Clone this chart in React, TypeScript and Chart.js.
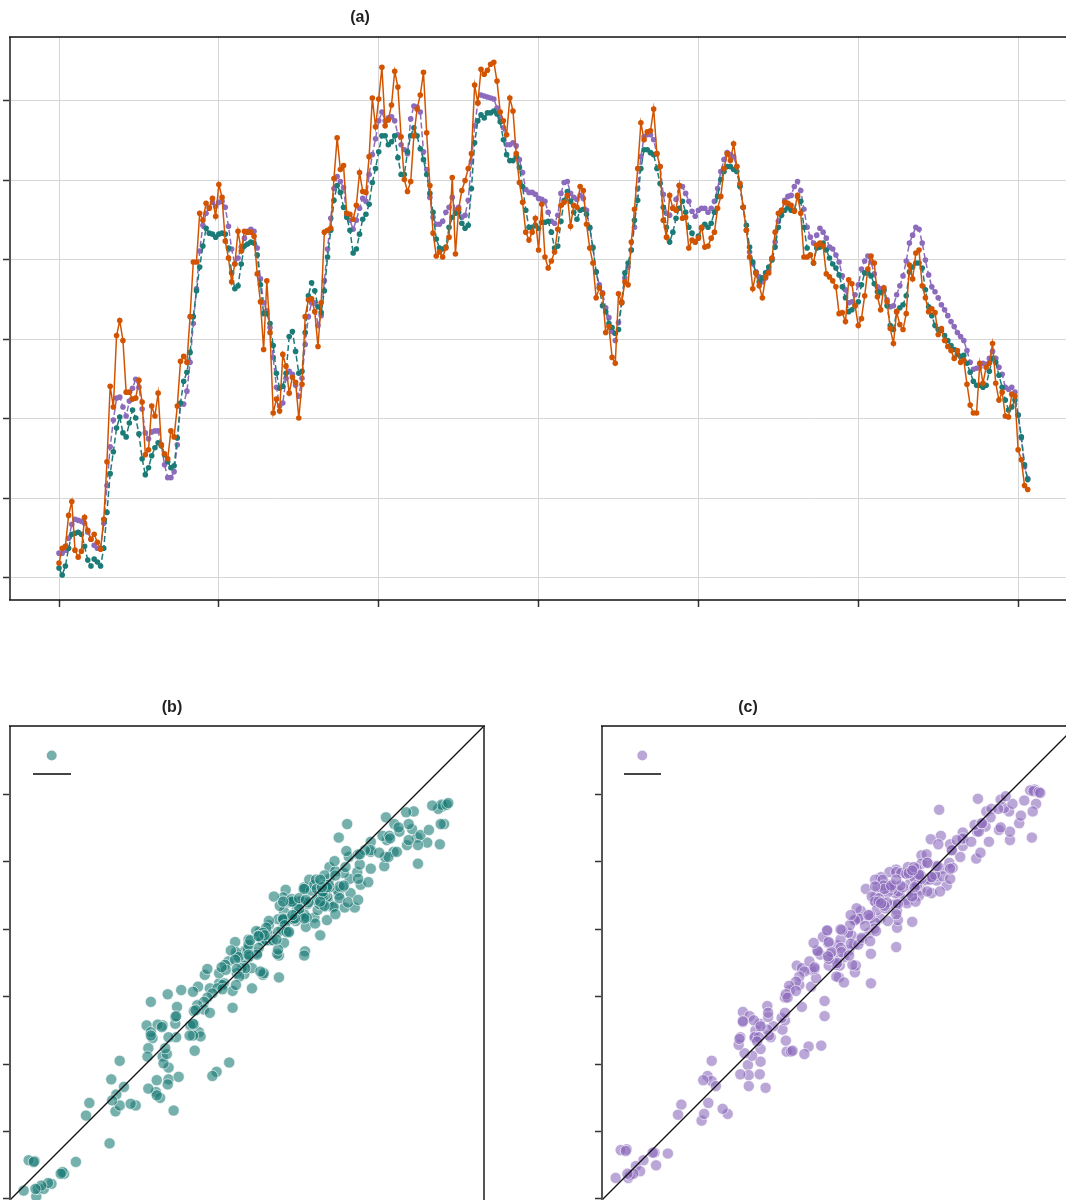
import React, { useEffect, useRef } from "react";
import { Chart, registerables } from "chart.js";

Chart.register(...registerables);

// ---- data ----
const observed = [
  15, 30, 32, 63, 77, 28, 21, 27, 61, 48,
  39, 44, 36, 29, 59, 117, 193, 172, 244, 259,
  239, 187, 187, 180, 181, 199, 177, 124, 129, 173,
  163, 186, 134, 125, 120, 148, 142, 173, 218, 223,
  217, 263, 318, 318, 367, 360, 377, 372, 382, 364,
  396, 383, 339, 322, 298, 316, 349, 329, 349, 348,
  348, 344, 306, 278, 230, 299, 247, 166, 180, 168,
  225, 213, 186, 202, 197, 161, 195, 263, 280, 281,
  268, 233, 277, 348, 350, 352, 402, 443, 411, 415,
  367, 366, 361, 375, 408, 389, 388, 424, 483, 454,
  482, 514, 455, 461, 476, 510, 494, 444, 401, 389,
  399, 445, 472, 486, 509, 448, 395, 347, 324, 328,
  323, 332, 343, 403, 326, 371, 390, 400, 412, 427,
  496, 478, 512, 507, 511, 517, 519, 500, 469, 460,
  446, 483, 470, 427, 398, 378, 348, 340, 348, 362,
  330, 376, 323, 312, 319, 328, 351, 375, 378, 385,
  354, 375, 373, 394, 390, 356, 332, 317, 282, 292,
  286, 247, 253, 222, 216, 286, 277, 298, 295, 338,
  371, 412, 458, 441, 449, 450, 472, 427, 414, 360,
  343, 385, 372, 370, 395, 362, 363, 332, 340, 338,
  342, 353, 333, 334, 342, 348, 372, 384, 412, 427,
  420, 437, 414, 397, 373, 350, 323, 291, 307, 294,
  282, 303, 307, 322, 348, 367, 370, 378, 377, 375,
  369, 385, 367, 323, 323, 325, 317, 335, 337, 334,
  306, 303, 299, 293, 266, 267, 258, 300, 296, 274,
  254, 261, 284, 311, 324, 317, 283, 270, 292, 278,
  251, 236, 268, 255, 250, 266, 315, 301, 327, 330,
  294, 282, 268, 271, 267, 245, 251, 239, 233, 229,
  221, 229, 217, 219, 195, 174, 166, 166, 216, 196,
  212, 216, 236, 196, 179, 187, 163, 162, 185, 183,
  129, 119, 93, 89,
];

const modelTeal = [
  10, 3, 12, 30, 44, 45, 46, 44, 32, 18,
  12, 19, 16, 12, 30, 66, 105, 127, 151, 162,
  146, 142, 156, 169, 161, 145, 120, 104, 111, 123,
  131, 136, 133, 124, 117, 111, 113, 141, 176, 198,
  207, 227, 263, 289, 313, 334, 352, 347, 346, 343,
  346, 347, 346, 332, 307, 291, 294, 316, 334, 336,
  338, 337, 325, 295, 266, 266, 256, 234, 206, 191,
  193, 206, 243, 248, 228, 206, 208, 247, 284, 297,
  289, 273, 267, 289, 323, 350, 380, 395, 388, 373,
  363, 350, 327, 331, 346, 361, 366, 376, 398, 412,
  429, 445, 445, 436, 439, 445, 423, 406, 406, 429,
  445, 453, 445, 432, 421, 406, 387, 368, 341, 332,
  331, 333, 353, 363, 367, 368, 357, 352, 355, 392,
  438, 460, 466, 463, 468, 468, 470, 467, 459, 441,
  426, 420, 420, 424, 413, 394, 370, 353, 353, 355,
  352, 358, 358, 359, 348, 332, 334, 359, 380, 389,
  379, 368, 361, 370, 371, 366, 353, 332, 308, 292,
  274, 268, 256, 252, 246, 250, 277, 307, 317, 330,
  360, 380, 412, 431, 431, 428, 426, 412, 397, 373,
  353, 338, 348, 362, 372, 379, 368, 353, 347, 338,
  344, 352, 356, 353, 357, 368, 384, 401, 409, 414,
  414, 411, 409, 394, 373, 355, 333, 318, 307, 298,
  302, 307, 313, 320, 333, 353, 365, 370, 373, 370,
  370, 384, 379, 353, 332, 325, 317, 332, 333, 337,
  330, 322, 316, 312, 305, 293, 282, 268, 270, 274,
  278, 295, 307, 307, 304, 296, 288, 287, 290, 274,
  254, 250, 268, 272, 275, 284, 308, 313, 317, 317,
  312, 290, 273, 264, 254, 250, 249, 244, 239, 234,
  230, 225, 223, 224, 216, 207, 198, 194, 194, 192,
  194, 208, 221, 217, 204, 192, 179, 169, 172, 179,
  164, 142, 114, 99,
];

const modelPurple = [
  25, 25, 28, 40, 54, 59, 58, 57, 55, 46,
  39, 33, 30, 30, 55, 93, 132, 159, 181, 182,
  172, 163, 178, 191, 200, 192, 170, 146, 140, 147,
  148, 148, 134, 114, 101, 101, 107, 134, 175, 175,
  188, 217, 256, 291, 329, 355, 367, 373, 378, 374,
  378, 379, 373, 354, 331, 316, 322, 333, 342, 349,
  351, 349, 332, 301, 277, 269, 252, 222, 192, 173,
  176, 201, 208, 205, 194, 183, 201, 235, 263, 277,
  277, 254, 264, 299, 331, 362, 392, 404, 399, 393,
  365, 360, 351, 360, 372, 382, 379, 406, 426, 442,
  460, 469, 460, 463, 464, 460, 446, 436, 431, 427,
  462, 475, 474, 469, 429, 411, 383, 363, 356, 356,
  359, 368, 373, 383, 370, 373, 363, 365, 380, 419,
  455, 478, 486, 485, 484, 483, 482, 473, 463, 453,
  436, 436, 438, 435, 421, 408, 391, 388, 388, 386,
  382, 381, 379, 368, 359, 357, 365, 387, 398, 399,
  387, 383, 381, 385, 382, 370, 352, 333, 308, 295,
  287, 272, 262, 248, 239, 257, 278, 302, 313, 330,
  353, 392, 424, 444, 446, 446, 441, 427, 414, 386,
  367, 365, 372, 381, 395, 394, 387, 379, 369, 364,
  370, 372, 372, 368, 372, 379, 392, 409, 421, 428,
  426, 424, 414, 395, 373, 350, 328, 316, 308, 303,
  298, 302, 310, 321, 338, 359, 370, 380, 384, 385,
  394, 399, 390, 371, 353, 343, 337, 345, 352, 348,
  342, 333, 331, 325, 318, 304, 290, 277, 278, 285,
  295, 311, 319, 324, 318, 306, 293, 291, 289, 280,
  273, 274, 285, 294, 304, 319, 337, 345, 353, 351,
  337, 320, 305, 293, 288, 282, 275, 270, 264, 258,
  253, 247, 243, 239, 229, 217, 210, 211, 212, 216,
  215, 221, 228, 221, 212, 205, 192, 190, 192, 187,
  164, 141, 112, 100,
];

const seriesXTicks = [0, 50, 100, 150, 200, 250, 300];
const seriesYTicks = [0, 80, 160, 240, 320, 400, 480];
const scatterTicks = [0, 80, 160, 240, 320, 400, 480];
const panelTitles = ["(a)", "(b)", "(c)"];

const ORANGE = "#d35400";
const TEAL = "#1b7b77";
const PURPLE = "#8c6bbd";
const TEAL_FILL = "rgba(27,123,119,0.6)";
const PURPLE_FILL = "rgba(140,107,189,0.6)";

const FONT = '"Liberation Sans", Arial, Helvetica, sans-serif';

function framePlugin(title: string, titleX: number, drawBottom: boolean) {
  return {
    id: "frame_" + title,
    afterDraw(chart: any) {
      const { ctx, chartArea } = chart;
      const { left, right, top, bottom } = chartArea;
      ctx.save();
      ctx.lineCap = "butt";
      ctx.strokeStyle = "#555";
      ctx.lineWidth = 2;
      ctx.beginPath();
      ctx.moveTo(left, top);
      ctx.lineTo(left, bottom);
      ctx.moveTo(right, top);
      ctx.lineTo(right, bottom);
      ctx.stroke();
      ctx.strokeStyle = "#111";
      ctx.lineWidth = 1.7;
      ctx.beginPath();
      ctx.moveTo(left - 1, top);
      ctx.lineTo(right + 1, top);
      if (drawBottom) {
        ctx.moveTo(left - 1, bottom);
        ctx.lineTo(right + 1, bottom);
      }
      ctx.stroke();
      ctx.fillStyle = "#222";
      ctx.font = "bold 16px " + FONT;
      ctx.textAlign = "center";
      ctx.textBaseline = "middle";
      ctx.fillText(title, titleX, 18);
      ctx.restore();
    },
  };
}

function legendPlugin(fill: string, dotX: number, lineX1: number, lineX2: number) {
  return {
    id: "miniLegend",
    afterDraw(chart: any) {
      const { ctx } = chart;
      ctx.save();
      ctx.fillStyle = fill;
      ctx.beginPath();
      ctx.arc(dotX, 65.5, 5, 0, Math.PI * 2);
      ctx.fill();
      ctx.strokeStyle = "#444";
      ctx.lineWidth = 2;
      ctx.beginPath();
      ctx.moveTo(lineX1, 84);
      ctx.lineTo(lineX2, 84);
      ctx.stroke();
      ctx.restore();
    },
  };
}

function SeriesPanel() {
  const ref = useRef<HTMLCanvasElement | null>(null);
  useEffect(() => {
    if (!ref.current) return;
    const toPts = (arr: number[]) => arr.map((v, i) => ({ x: i, y: v }));
    const lineDs = (label: string, arr: number[], color: string, dash: number[]) => ({
      label,
      data: toPts(arr),
      borderColor: color,
      backgroundColor: color,
      borderWidth: 1.5,
      borderDash: dash,
      pointRadius: 2.8,
      pointBorderWidth: 0,
      pointBackgroundColor: color,
      tension: 0,
    });
    const chart = new Chart(ref.current, {
      type: "line",
      data: {
        datasets: [
          lineDs("Observed", observed, ORANGE, []),
          lineDs("Model B", modelTeal, TEAL, [6, 3]),
          lineDs("Model C", modelPurple, PURPLE, [6, 3]),
        ],
      },
      options: {
        responsive: false,
        animation: false,
        devicePixelRatio: 1,
        events: [],
        layout: { autoPadding: false, padding: { top: 37, right: 24, left: 0, bottom: 0 } },
        plugins: { legend: { display: false }, tooltip: { enabled: false }, title: { display: false } },
        scales: {
          x: {
            type: "linear",
            min: -15.33,
            max: 318.1,
            border: { display: false },
            grid: { color: "#d6d6d6", lineWidth: 1, tickColor: "#333", tickLength: 7, tickWidth: 1.5 },
            ticks: { display: false },
            afterBuildTicks: (s: any) => {
              s.ticks = seriesXTicks.map((v) => ({ value: v }));
            },
            afterFit: (s: any) => {
              s.height = 40;
            },
          },
          y: {
            type: "linear",
            min: -22.14,
            max: 544.4,
            border: { display: false },
            grid: { color: "#d6d6d6", lineWidth: 1, tickColor: "#333", tickLength: 7, tickWidth: 1.5 },
            ticks: { display: false },
            afterBuildTicks: (s: any) => {
              s.ticks = seriesYTicks.map((v) => ({ value: v }));
            },
            afterFit: (s: any) => {
              s.width = 10;
            },
          },
        },
      } as any,
      plugins: [framePlugin(panelTitles[0], 360, true)],
    });
    return () => chart.destroy();
  }, []);
  return (
    <canvas
      ref={ref}
      width={1100}
      height={640}
      style={{ position: "absolute", left: 0, top: 0, width: 1100, height: 640 }}
    />
  );
}

function ScatterPanel(props: {
  model: number[];
  fill: string;
  title: string;
  left: number;
  titleX: number;
  dotX: number;
  lx1: number;
  lx2: number;
}) {
  const ref = useRef<HTMLCanvasElement | null>(null);
  useEffect(() => {
    if (!ref.current) return;
    const lo = -1.2;
    const hi = 561.4;
    const pairs = observed.map((o, i) => ({ x: o, y: props.model[i] }));
    const chart = new Chart(ref.current, {
      type: "scatter",
      data: {
        datasets: [
          {
            type: "line",
            label: "1:1",
            data: [
              { x: lo, y: lo },
              { x: hi, y: hi },
            ],
            borderColor: "#111",
            borderWidth: 1.3,
            pointRadius: 0,
            showLine: true,
          },
          {
            label: "points",
            data: pairs,
            pointRadius: 5.6,
            pointBackgroundColor: props.fill,
            pointBorderColor: "rgba(255,255,255,0.85)",
            pointBorderWidth: 0.7,
            backgroundColor: props.fill,
            borderColor: "rgba(255,255,255,0.85)",
          },
        ],
      },
      options: {
        responsive: false,
        animation: false,
        devicePixelRatio: 1,
        events: [],
        layout: { autoPadding: false, padding: { top: 36, right: 16, left: 0, bottom: 0 } },
        plugins: { legend: { display: false }, tooltip: { enabled: false }, title: { display: false } },
        scales: {
          x: { type: "linear", min: lo, max: hi, display: false },
          y: {
            type: "linear",
            min: lo,
            max: hi,
            border: { display: false },
            grid: { drawOnChartArea: false, tickColor: "#333", tickLength: 7, tickWidth: 1.5 },
            ticks: { display: false },
            afterBuildTicks: (s: any) => {
              s.ticks = scatterTicks.map((v) => ({ value: v }));
            },
            afterFit: (s: any) => {
              s.width = 10;
            },
          },
        },
      } as any,
      plugins: [
        framePlugin(props.title, props.titleX, false),
        legendPlugin(props.fill, props.dotX, props.lx1, props.lx2),
      ],
    });
    return () => chart.destroy();
  }, []);
  return (
    <canvas
      ref={ref}
      width={500}
      height={510}
      style={{ position: "absolute", left: props.left, top: 690, width: 500, height: 510 }}
    />
  );
}

export default function App() {
  return (
    <div
      style={{
        position: "absolute",
        left: 0,
        top: 0,
        width: 1066,
        height: 1200,
        overflow: "hidden",
        background: "#fff",
      }}
    >
      <SeriesPanel />
      <ScatterPanel model={modelTeal} fill={TEAL_FILL} title={panelTitles[1]} left={0} titleX={172} dotX={51.7} lx1={33} lx2={71} />
      <ScatterPanel model={modelPurple} fill={PURPLE_FILL} title={panelTitles[2]} left={592} titleX={156} dotX={50.3} lx1={32} lx2={69} />
    </div>
  );
}
